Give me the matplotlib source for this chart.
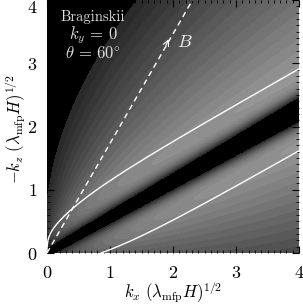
import numpy as np
import matplotlib
matplotlib.use('Agg')
import matplotlib.pyplot as plt
from matplotlib.colors import ListedColormap, BoundaryNorm

plt.rcParams['font.family'] = 'cmr10'
plt.rcParams['mathtext.fontset'] = 'cm'
plt.rcParams['axes.formatter.use_mathtext'] = True

# chart settings
theta_B = 60.0          # field angle (deg)
band_angle = 29.5       # angle of the dark ridge (deg)
white_level = [0.565]   # level of the white contours (|w|)
shade_levels = [-1.0] + list(np.linspace(0.0001, 1, 21))
x_ticks = [0, 1, 2, 3, 4]
y_ticks = [0, 1, 2, 3, 4]
labels = ['Braginskii', r'$k_y\,=\,0$', r'$\theta\,=\,60^{\circ}$']

# growth-rate like field on the (kx, kz) plane
kx = np.linspace(0, 4, 401)
kz = np.linspace(0, 4, 401)
KX, KZ = np.meshgrid(kx, kz)
a = np.radians(band_angle)
U = KX * np.cos(a) + KZ * np.sin(a)
V = -KX * np.sin(a) + KZ * np.cos(a)
S = np.sqrt(1 - np.exp(-U.clip(0) / 0.92)) * np.sqrt(np.tanh(U.clip(0) / 0.115)) + 1e-6
W = V / S
D = np.degrees(np.arctan2(V, U))

core = 0.08 + 0.022 * U
P = np.tanh(np.clip(np.abs(V) - core, 0, None) / 0.15)
Q = np.where(V > 0, 1 - D / 74.7 - W / 6.2, 1 - np.abs(D) / 60 - np.abs(W) / 8)
G = np.clip(P * Q, -0.5, 1)

# black where the field is <= 0, then greys
mids = [0.5 * (shade_levels[i] + shade_levels[i + 1]) for i in range(1, len(shade_levels) - 1)]
greys = [(0, 0, 0)] + [(0.15 + 0.53 * m,) * 3 for m in mids]
cmap = ListedColormap(greys)
norm = BoundaryNorm(shade_levels, cmap.N)

fig = plt.figure(figsize=(3.03, 3.05), dpi=100)
ax = fig.add_axes([47 / 303, 1 - 253 / 305, 252 / 303, 253 / 305])

ax.contourf(KX, KZ, G, levels=shade_levels, cmap=cmap, norm=norm)
ax.contour(KX, KZ, np.abs(W), levels=white_level, colors='white', linewidths=1.0)

# B direction
bx = [0, 4 / np.tan(np.radians(theta_B))]
bz = [0, 4]
ax.plot(bx, bz, color='white', lw=1.0, ls=(0, (4, 3)))
ax.annotate('', xy=(1.95, 3.42), xytext=(1.87, 3.24),
            arrowprops=dict(arrowstyle='->', color='white', lw=0.8))
ax.text(2.07, 3.33, r'$B$', color='#eeeeee', fontsize=13, va='center')

ax.text(0.72, 3.73, labels[0], color='#dddddd', fontsize=10.5, ha='center', va='center')
ax.text(0.74, 3.45, labels[1], color='#dddddd', fontsize=12, ha='center', va='center')
ax.text(0.73, 3.16, labels[2], color='#dddddd', fontsize=12, ha='center', va='center')

ax.set_xlim(0, 4)
ax.set_ylim(0, 4)
ax.set_xticks(x_ticks)
ax.set_yticks(y_ticks)
ax.set_xticks(np.arange(0, 4.01, 0.1), minor=True)
ax.set_yticks(np.arange(0, 4.01, 0.1), minor=True)
ax.tick_params(which='both', direction='in', top=True, right=True, color='black', labelsize=13)
ax.tick_params(which='major', length=5, width=0.8)
ax.tick_params(axis='x', which='major', pad=9)
ax.tick_params(axis='y', which='major', pad=7)
ax.tick_params(which='minor', length=2.5, width=0.6)
ax.get_yticklabels()[-1].set_verticalalignment('top')
for sp in ax.spines.values():
    sp.set_visible(False)

ax.set_xlabel(r'$k_x\ (\lambda_{\rm mfp}H)^{1/2}$', fontsize=12, va='center')
ax.xaxis.set_label_coords(0.5, -0.158)
ax.set_ylabel(r'$-k_z\ (\lambda_{\rm mfp}H)^{1/2}$', fontsize=12, va='center')
ax.yaxis.set_label_coords(-0.125, 0.49)

fig.savefig('out.png', dpi=100)
